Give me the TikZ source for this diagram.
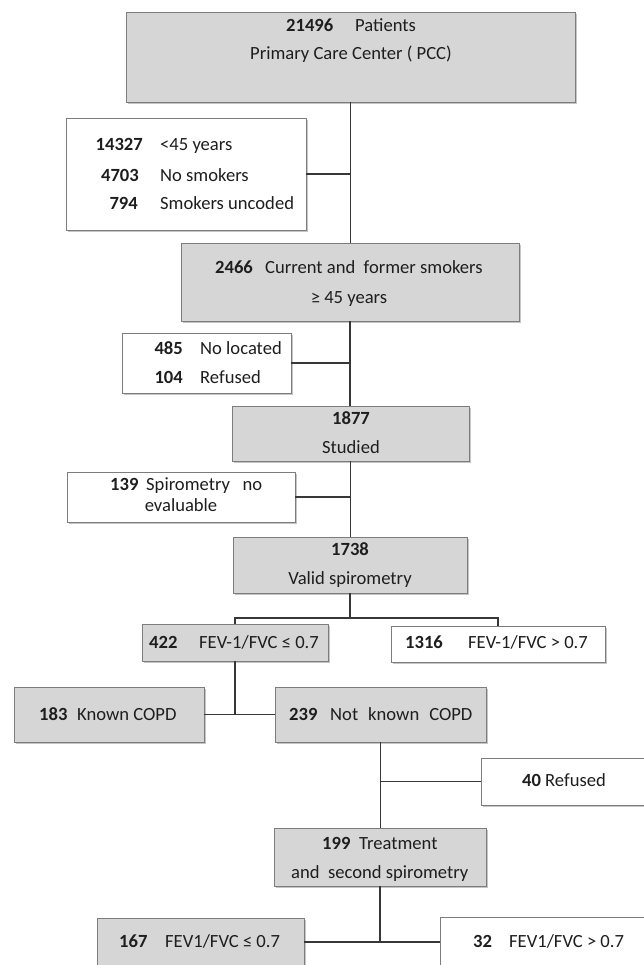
\documentclass[tikz,border=0pt]{standalone}
\usepackage{fontspec}
\setmainfont{Carlito}
\usetikzlibrary{shadows}
\definecolor{boxgray}{RGB}{214,214,214}
\definecolor{edgegray}{RGB}{125,125,125}
\definecolor{linegray}{RGB}{55,55,55}
\definecolor{txt}{RGB}{30,30,30}
\begin{document}
\begin{tikzpicture}[x=1pt,y=-1pt,
  box/.style={draw=edgegray, line width=0.9pt, inner sep=0pt, outer sep=0pt, anchor=north west,
    drop shadow={shadow xshift=1.6pt, shadow yshift=-1.6pt, fill=black!45, opacity=0.5}},
  gbox/.style={box, fill=boxgray},
  wbox/.style={box, fill=white},
  conn/.style={draw=linegray, line width=1.3pt},
  t/.style={font=\fontsize{18.6}{22}\selectfont, text=txt, inner sep=0pt, anchor=base west},
  n/.style={t, font=\fontsize{18.6}{22}\selectfont\bfseries},
]
\useasboundingbox (0,0) rectangle (644,965);
\clip (0,0) rectangle (644,965);
\fill[white] (0,0) rectangle (644,965);

% boxes
\node[gbox, minimum width=449pt, minimum height=90pt] (top) at (126,12) {};
\node[wbox, minimum width=240pt, minimum height=112pt] (b2) at (66,118) {};
\node[gbox, minimum width=338pt, minimum height=78pt] (b3) at (181,243) {};
\node[wbox, minimum width=169pt, minimum height=60pt] (b4) at (122,333) {};
\node[gbox, minimum width=237pt, minimum height=55pt] (b5) at (232,406) {};
\node[wbox, minimum width=228pt, minimum height=50pt] (b6) at (67,472) {};
\node[gbox, minimum width=234pt, minimum height=56pt] (b7) at (233,537) {};
\node[gbox, minimum width=186pt, minimum height=37pt] (b8) at (142,624) {};
\node[wbox, minimum width=214pt, minimum height=36pt] (b9) at (391,626) {};
\node[gbox, minimum width=190pt, minimum height=55pt] (b183) at (14,687) {};
\node[gbox, minimum width=211pt, minimum height=55pt] (b239) at (275,687) {};
\node[wbox, minimum width=170pt, minimum height=47pt] (b40) at (481,758) {};
\node[gbox, minimum width=212pt, minimum height=58pt] (b199) at (274,828) {};
\node[gbox, minimum width=207pt, minimum height=50pt] (b167) at (97,918) {};
\node[wbox, minimum width=215pt, minimum height=51pt] (b32) at (440,917) {};

% connectors
\coordinate (split) at (350,618);
\coordinate (j2) at (381,942);
\draw[conn] (top.south) -- (top.south |- b3.north);
\draw[conn] (b2.east) -- (b2.east -| top.south);
\draw[conn] (b3.south) -- (b3.south |- b5.north);
\draw[conn] (b4.east) -- (b4.east -| b3.south);
\draw[conn] (b5.south) -- (b5.south |- b7.north);
\draw[conn] (b6.east) -- (b6.east -| b5.south);
\draw[conn] (b7.south) -- (b7.south |- split);
\draw[conn] (b8.north) -- (b8.north |- split) -- (b9.north |- split) -- (b9.north);
\draw[conn] (b8.south) -- (b8.south |- b183.east);
\draw[conn] (b183.east) -- (b239.west);
\draw[conn] (b239.south) -- (b239.south |- b199.north);
\draw[conn] (b40.west) -- (b40.west -| b239.south);
\draw[conn] (b199.south) -- (b199.south |- j2);
\draw[conn] (b167.east |- j2) -- (b32.west |- j2);

% texts
\node[n] (t1a) at (286,32) {21496};
\node[t] (t1b) at (355,32) {Patients};
\node[t, anchor=base] (t1c) at (351,60) {Primary Care Center ( PCC)};

\node[n, anchor=base east] (t2a) at (143,151) {14327};
\node[n, anchor=base east] (t2b) at (139,182) {4703};
\node[n, anchor=base east] (t2c) at (138,210) {794};
\node[t] (t2d) at (160,151) {<45 years};
\node[t] (t2e) at (160,182) {No smokers};
\node[t] (t2f) at (160,210) {Smokers\ uncoded};

\node[n] (t3a) at (215,273) {2466};
\node[t] (t3b) at (265,273) {Current\ and\ \ former\ smokers};
\node[t, anchor=base] (t3c) at (349,303) {≥ 45 years};

\node[n, anchor=base east] (t4a) at (183,354) {485};
\node[n, anchor=base east] (t4b) at (183,383) {104};
\node[t] (t4c) at (200,354) {No located};
\node[t] (t4d) at (200,383) {Refused};

\node[n, anchor=base] (t5a) at (351,424) {1877};
\node[t, anchor=base] (t5b) at (351,453) {Studied};

\node[n] (t6a) at (110,490) {139};
\node[t] (t6b) at (146,490) {Spirometry\ \ \ no};
\node[t, anchor=base] (t6c) at (181,511) {evaluable};

\node[n, anchor=base] (t7a) at (350,555) {1738};
\node[t, anchor=base] (t7b) at (350,584) {Valid spirometry};

\node[n] (t8a) at (149,648) {422};
\node[t] (t8b) at (199,648) {FEV-1/FVC ≤ 0.7};
\node[n] (t9a) at (405,648) {1316};
\node[t] (t9b) at (468,648) {FEV-1/FVC > 0.7};

\node[n] (t10a) at (39,720) {183};
\node[t] (t10b) at (77,720) {Known\ COPD};
\node[n] (t11a) at (289,720) {239};
\node[t] (t11b) at (330,720) {Not\hspace{10pt}known\hspace{10pt}COPD};

\node[n] (t12a) at (522,786) {40};
\node[t] (t12b) at (545,786) {Refused};

\node[n] (t13a) at (322,849) {199};
\node[t] (t13b) at (359,849) {Treatment};
\node[t] (t13c) at (291,878) {and\ \ second spirometry};

\node[n] (t14a) at (119,947) {167};
\node[t] (t14b) at (165,947) {FEV1/FVC ≤ 0.7};
\node[n] (t15a) at (473,947) {32};
\node[t] (t15b) at (509,947) {FEV1/FVC > 0.7};
\end{tikzpicture}
\end{document}
